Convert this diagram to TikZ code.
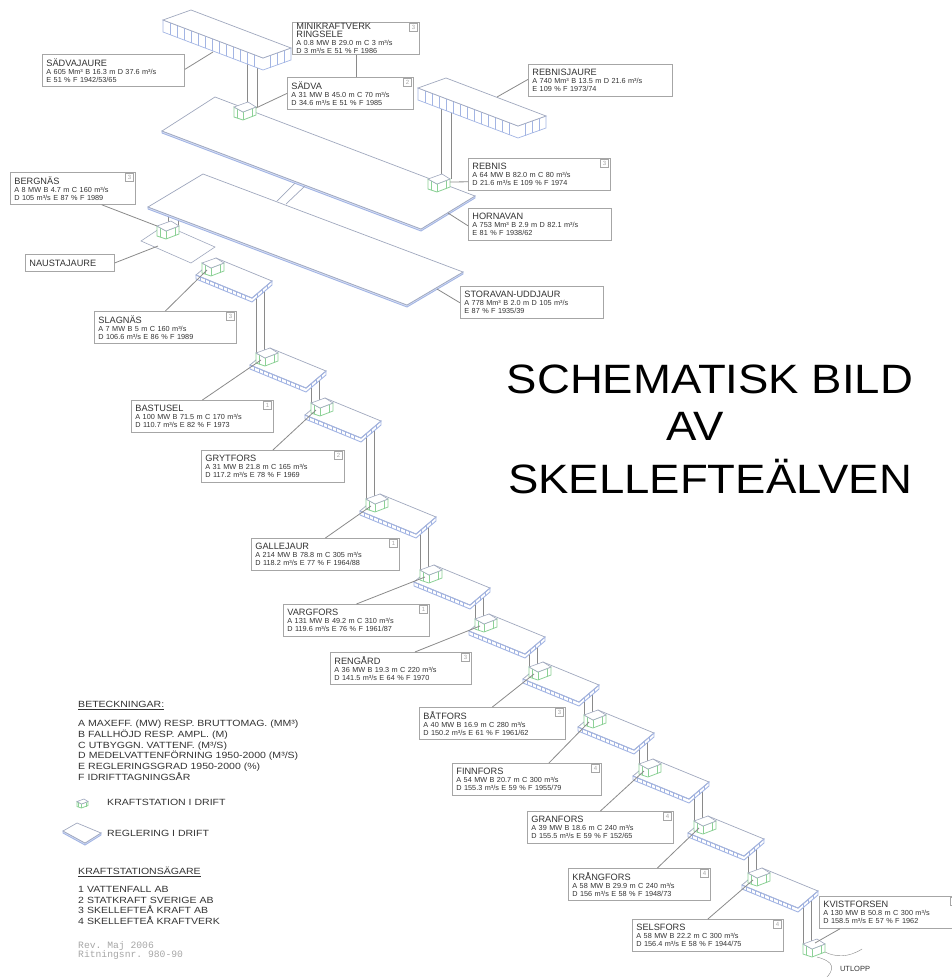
\documentclass[tikz,border=0pt]{standalone}
\usepackage{fontspec}
\setmainfont{Liberation Sans}
\setmonofont{Liberation Mono}
\usepackage{tikz}
\usetikzlibrary{calc,backgrounds}
\definecolor{cEdge}{HTML}{A0A8BE}
\definecolor{cLake}{HTML}{A3B5E4}
\definecolor{cPlant}{HTML}{8CD196}
\definecolor{cLine}{HTML}{8A8A8A}
\definecolor{cBox}{HTML}{A6A6A6}
\definecolor{cText}{HTML}{333333}
\tikzset{
  infobox/.style={draw=cBox,fill=white,thick,anchor=north west,align=left,inner ysep=0pt,
                  inner xsep=4pt,minimum height=32pt,text=cText,
                  font=\fontsize{7.3}{8}\selectfont},
  ownerbox/.style={draw=cBox,fill=white,anchor=north east,inner sep=0pt,minimum size=8pt,
                  text=cBox,font=\fontsize{6}{6}\selectfont},
  leader/.style={draw=cLine,thick},
  pipe/.style={draw=cLine,thick},
  lakeface/.style={draw=cEdge,fill=white,line width=.7pt},
  lakeside/.style={draw=cLake,fill=cLake!35,line width=.9pt},
  plantface/.style={draw=cEdge,fill=white,line width=.6pt},
  plantside/.style={draw=cPlant,fill=white,line width=.8pt},
  bigtitle/.style={anchor=base,xscale=1.11,text=black,font=\fontsize{41}{41}\selectfont},
  legendtext/.style={anchor=north west,align=left,inner sep=0pt,text=cText,xscale=1.17,
                  font=\fontsize{9}{10.7}\selectfont},
}
\newcommand{\ttl}{\fontsize{9.2}{9.5}\selectfont}
% station box, origin at top left of its bounds
\newcommand{\powerstation}[4][]{
  \begin{scope}[shift={(#3,#4)},#1]
    \coordinate (#2-st) at (0,0);
    \coordinate (#2-tap) at (5,12);
    \coordinate (#2-pl) at (0,5);
    \coordinate (#2-pr) at (8,2);
    \filldraw[plantside] (0,5)--(0,15)--(9,18)--(22,13)--(22,5)--(9,10)--cycle;
    \draw[plantside,fill=none] (9,10)--(9,18) (3,6)--(3,16) (18,7)--(18,15);
    \filldraw[plantface] (0,5)--(14,0)--(22,5)--(9,10)--cycle;
  \end{scope}
}
% cascade step with its station
\newcommand{\stepslab}[3]{
  \begin{scope}[shift={(#2,#3)}]
    \coordinate (#1-up) at (56,13);
    \filldraw[lakeside,fill=white] (0,0)--(0,4)--(56,27)--(76,10)--(76,6)--(56,23)--cycle;
    \foreach \t in {.08,.16,...,.95}
      \draw[cLake,line width=.5pt] (56*\t,23*\t) -- ++(0,4);
    \foreach \t in {.25,.5,.75}
      \draw[cLake,line width=.5pt] (56+20*\t,23-17*\t) -- ++(0,4);
    \filldraw[lakeface] (0,0)--(56,23)--(76,6)--(20,-17)--cycle;
    \draw[cLake,line width=.8pt] (0,0)--(56,23)--(76,6);
  \end{scope}
  \powerstation{#1}{#2+6}{#3-17}
}
% flat lake from four corners
\newcommand{\flatlake}[4]{
  \filldraw[lakeside] #1 -- ($#1+(0,2)$) -- ($#4+(0,2)$) -- ($#3+(0,2)$) -- #3 -- #4 -- cycle;
  \filldraw[lakeface] #1 -- #2 -- #3 -- #4 -- cycle;
}
% tall basin, left corner given
\newcommand{\tallbasin}[3]{
  \begin{scope}[shift={(#2,#3)}]
    \coordinate (#1) at (0,0);
    \filldraw[draw=cLake,fill=white,line width=.7pt] (0,0)--(0,12)--(100,50)--(128,40)--(128,28)--(100,38)--cycle;
    \foreach \t in {.07,.14,...,.95}
      \draw[cLake,line width=.5pt] (100*\t,38*\t) -- ++(0,12);
    \foreach \t in {.25,.5,.75}
      \draw[cLake,line width=.5pt] (100+28*\t,38-10*\t) -- ++(0,12);
    \filldraw[lakeface] (0,0)--(100,38)--(128,28)--(28,-10)--cycle;
  \end{scope}
}
\newcommand{\ownermark}[2]{\node[ownerbox] (#1-own) at ([xshift=-2pt,yshift=-1pt]#1-lbl.north east) {#2};}
\begin{document}
\begin{tikzpicture}[x=1pt,y=-1pt]
  \useasboundingbox (0,0) rectangle (952,977);

  % upper lakes
  \tallbasin{sadvajaure}{163}{20}
  \tallbasin{rebnisjaure}{418}{88}
  \flatlake{(162,131)}{(215,97)}{(475,196)}{(421,229)}
  \flatlake{(148,207)}{(203,174)}{(463,272)}{(407,305)}
  \coordinate (strait-a) at (295,183);
  \coordinate (strait-b) at (305,186);
  \draw[lakeface] (strait-a) -- (277,201) (strait-b) -- (286,204);
  \filldraw[plantface,draw=cEdge] (141,241)--(165,225)--(215,247)--(191,263)--cycle;

  \powerstation{sadva}{234}{102}
  \powerstation{rebnis}{428}{174}
  \powerstation{bergnas}{157}{221}

  % the steps down the river
  \stepslab{slagnas}{196}{275}
  \stepslab{bastusel}{250}{365}
  \stepslab{grytfors}{305}{415}
  \stepslab{gallejaur}{360}{511}
  \stepslab{vargfors}{414}{582}
  \stepslab{rengard}{469}{631}
  \stepslab{batfors}{523}{679}
  \stepslab{finnfors}{578}{727}
  \stepslab{granfors}{633}{776}
  \stepslab{krangfors}{688}{833}
  \stepslab{selsfors}{742}{885}
  \powerstation{kvistforsen}{803}{939}

  % pipes behind everything
  \begin{scope}[on background layer]
    \foreach \a/\b in {slagnas/bastusel,bastusel/grytfors,grytfors/gallejaur,
        gallejaur/vargfors,vargfors/rengard,rengard/batfors,batfors/finnfors,
        finnfors/granfors,granfors/krangfors,krangfors/selsfors,selsfors/kvistforsen}{
      \draw[pipe] (\b-pl) -- (\b-pl |- \a-up);
      \draw[pipe] (\b-pr) -- (\b-pr |- \a-up);
    }
    \draw[pipe] (sadva-st) ++(13,2) -- ++(0,-50);
    \draw[pipe] (sadva-st) ++(23,5) -- ++(0,-50);
    \draw[pipe] (rebnis-st) ++(13,2) -- ++(0,-80);
    \draw[pipe] (rebnis-st) ++(23,5) -- ++(0,-80);
    \draw[pipe] (bergnas-st) ++(11,2) -- ++(0,-16);
    \draw[pipe] (bergnas-st) ++(21,4) -- ++(0,-16);
  \end{scope}

  % labels
  \node[infobox,text width=134pt] (sadvajaure-lbl) at (42,54) {{\ttl SÄDVAJAURE}\\A 605 Mm³ B 16.3 m D 37.6 m³/s\\E 51 \% F 1942/53/65};
  \node[infobox,text width=119pt] (ringsele-lbl) at (292,22) {{\ttl MINIKRAFTVERK\\RINGSELE}\\A 0.8 MW B 29.0 m C 3 m³/s\\D 3 m³/s E 51 \%  F 1986};
  \node[infobox,text width=118pt] (sadva-lbl) at (287,77) {{\ttl SÄDVA}\\A 31 MW B 45.0 m C 70 m³/s\\D 34.6 m³/s E 51 \%  F 1985};
  \node[infobox,text width=136pt] (rebnisjaure-lbl) at (528,64) {{\ttl REBNISJAURE}\\A 740 Mm³ B 13.5 m D 21.6 m³/s\\E 109 \%  F 1973/74};
  \node[infobox,text width=134pt] (rebnis-lbl) at (468,158) {{\ttl REBNIS}\\A 64 MW B 82.0 m C 80 m³/s\\D 21.6 m³/s E 109 \%  F 1974};
  \node[infobox,text width=135pt] (hornavan-lbl) at (468,208) {{\ttl HORNAVAN}\\A 753 Mm³ B 2.9 m D 82.1 m³/s\\E 81 \%  F 1938/62};
  \node[infobox,text width=135pt] (storavan-lbl) at (460,286) {{\ttl STORAVAN-UDDJAUR}\\A 778 Mm³ B 2.0 m D 105 m³/s\\E 87 \%  F 1935/39};
  \node[infobox,text width=117pt] (bergnas-lbl) at (10,172) {{\ttl BERGNÄS}\\A 8 MW B 4.7 m C 160 m³/s\\D 105 m³/s E 87 \%  F 1989};
  \node[infobox,text width=81pt,minimum height=17pt] (naustajaure-lbl) at (25,254) {{\ttl NAUSTAJAURE}};
  \node[infobox,text width=134pt] (slagnas-lbl) at (94,311) {{\ttl SLAGNÄS}\\A 7 MW B 5 m C 160 m³/s\\D 106.6 m³/s E 86 \%  F 1989};
  \node[infobox,text width=134pt] (bastusel-lbl) at (131,400) {{\ttl BASTUSEL}\\A 100 MW B 71.5 m C 170 m³/s\\D 110.7 m³/s E 82 \%  F 1973};
  \node[infobox,text width=135pt] (grytfors-lbl) at (201,450) {{\ttl GRYTFORS}\\A 31 MW B 21.8 m C 165 m³/s\\D 117.2 m³/s E 78 \%  F 1969};
  \node[infobox,text width=140pt] (gallejaur-lbl) at (251,538) {{\ttl GALLEJAUR}\\A 214 MW B 78.8 m C 305 m³/s\\D 118.2 m³/s E 77 \%  F 1964/88};
  \node[infobox,text width=138pt] (vargfors-lbl) at (283,604) {{\ttl VARGFORS}\\A 131 MW B 49.2 m C 310 m³/s\\D 119.6 m³/s E 76 \%  F 1961/87};
  \node[infobox,text width=133pt] (rengard-lbl) at (330,652) {{\ttl RENGÅRD}\\A 36 MW B 19.3 m C 220 m³/s\\D 141.5 m³/s E 64 \%  F 1970};
  \node[infobox,text width=138pt] (batfors-lbl) at (419,707) {{\ttl BÅTFORS}\\A 40 MW B 16.9 m C 280 m³/s\\D 150.2 m³/s E 61 \%  F 1961/62};
  \node[infobox,text width=141pt] (finnfors-lbl) at (452,763) {{\ttl FINNFORS}\\A 54 MW B 20.7 m C 300 m³/s\\D 155.3 m³/s E 59 \%  F 1955/79};
  \node[infobox,text width=138pt] (granfors-lbl) at (527,811) {{\ttl GRANFORS}\\A 39 MW B 18.6 m C 240 m³/s\\D 155.5 m³/s E 59 \%  F 152/65};
  \node[infobox,text width=134pt] (krangfors-lbl) at (568,868) {{\ttl KRÅNGFORS}\\A 58 MW B 29.9 m C 240 m³/s\\D 156 m³/s E 58 \%  F 1948/73};
  \node[infobox,text width=143pt] (selsfors-lbl) at (632,919) {{\ttl SELSFORS}\\A 58 MW B 22.2 m C 300 m³/s\\D 156.4 m³/s E 58 \%  F 1944/75};
  \node[infobox,text width=125pt] (kvistforsen-lbl) at (819,896) {{\ttl KVISTFORSEN}\\A 130 MW B 50.8 m C 300 m³/s\\D 158.5 m³/s E 57 \%  F 1962};

  \ownermark{ringsele}{3}
  \ownermark{sadva}{2}
  \ownermark{rebnis}{3}
  \ownermark{bergnas}{3}
  \ownermark{slagnas}{3}
  \ownermark{bastusel}{1}
  \ownermark{grytfors}{2}
  \ownermark{gallejaur}{1}
  \ownermark{vargfors}{1}
  \ownermark{rengard}{3}
  \ownermark{batfors}{3}
  \ownermark{finnfors}{4}
  \ownermark{granfors}{4}
  \ownermark{krangfors}{4}
  \ownermark{selsfors}{4}
  \node[ownerbox,anchor=north west] (kvistforsen-own) at (950,897) {};

  % leaders
  \coordinate (sadvajaure-tap) at (213,52);
  \coordinate (rebnisjaure-tap) at (497,97);
  \coordinate (hornavan-tap) at (448,213);
  \coordinate (storavan-tap) at (437,289);
  \coordinate (naustajaure-tap) at (158,246);
  \draw[leader] ([yshift=1pt]sadvajaure-lbl.east) -- (sadvajaure-tap);
  \draw[leader] (ringsele-lbl.south) -- (ringsele-lbl.south |- sadva-lbl.north);
  \draw[leader] (sadva-lbl.west) -- ($(sadva-st)+(22,6)$);
  \draw[leader] ([yshift=1pt]rebnisjaure-lbl.west) -- (rebnisjaure-tap);
  \draw[leader] ([yshift=9pt]rebnis-lbl.south west) -- ($(rebnis-st)+(22,8)$);
  \draw[leader] ([yshift=15pt]hornavan-lbl.south west) -- (hornavan-tap);
  \draw[leader] ([yshift=16pt]storavan-lbl.south west) -- (storavan-tap);
  \draw[leader] ([xshift=-34pt]bergnas-lbl.south east) -- ($(bergnas-st)+(0,5)$);
  \draw[leader] (naustajaure-lbl.east) -- (naustajaure-tap);
  \foreach \n in {slagnas,bastusel,grytfors,gallejaur,vargfors,batfors,granfors,selsfors}
    \draw[leader] (\n-lbl.north) -- (\n-tap);
  \draw[leader] ([xshift=14pt]rengard-lbl.north) -- (rengard-tap);
  \draw[leader] ([xshift=22pt]finnfors-lbl.north) -- (finnfors-tap);
  \draw[leader] ([xshift=18pt]krangfors-lbl.north) -- (krangfors-tap);
  \draw[leader] ([xshift=-46pt]kvistforsen-lbl.south) -- ($(kvistforsen-st)+(12,4)$);

  % outlet
  \draw[cLine] ($(kvistforsen-st)+(22,13)$) .. controls (835,957) and (848,958) .. (862,949);
  \draw[cLine] ($(kvistforsen-st)+(14,18)$) .. controls (828,960) and (838,965) .. (827,977);
  \node[anchor=base,inner sep=0pt,text=cText,font=\fontsize{7.5}{7.5}\selectfont] (utlopp) at (855,971) {UTLOPP};

  % title
  \node[bigtitle] (title-a) at (710,393) {SCHEMATISK BILD};
  \node[bigtitle] (title-b) at (695,440) {AV};
  \node[bigtitle] (title-c) at (710,493) {SKELLEFTEÄLVEN};

  % legend
  \node[legendtext] (legend-head) at (78,701) {\underline{BETECKNINGAR:}};
  \node[legendtext] (legend-list) at (78,720) {A MAXEFF. (MW) RESP. BRUTTOMAG. (MM³)\\B FALLHÖJD RESP. AMPL. (M)\\C UTBYGGN. VATTENF. (M³/S)\\D MEDELVATTENFÖRNING 1950-2000 (M³/S)\\E REGLERINGSGRAD 1950-2000 (\%)\\F IDRIFTTAGNINGSÅR};
  \powerstation[scale=.5]{legend-plant}{77}{799}
  \node[legendtext] (legend-plant-txt) at (107,799) {KRAFTSTATION I DRIFT};
  \flatlake{(63,831)}{(77,823)}{(101,833)}{(85,843)}
  \node[legendtext] (legend-lake-txt) at (107,830) {REGLERING I DRIFT};
  \node[legendtext] (owner-head) at (78,867) {\underline{KRAFTSTATIONSÄGARE}};
  \node[legendtext] (owner-list) at (78,886) {1 VATTENFALL AB\\2 STATKRAFT SVERIGE AB\\3 SKELLEFTEÅ KRAFT AB\\4 SKELLEFTEÅ KRAFTVERK};
  \node[legendtext,xscale=.855,text=cBox,font=\ttfamily\fontsize{9.7}{9.5}\selectfont] (rev) at (78,941) {Rev. Maj 2006\\Ritningsnr. 980-90};
\end{tikzpicture}
\end{document}
